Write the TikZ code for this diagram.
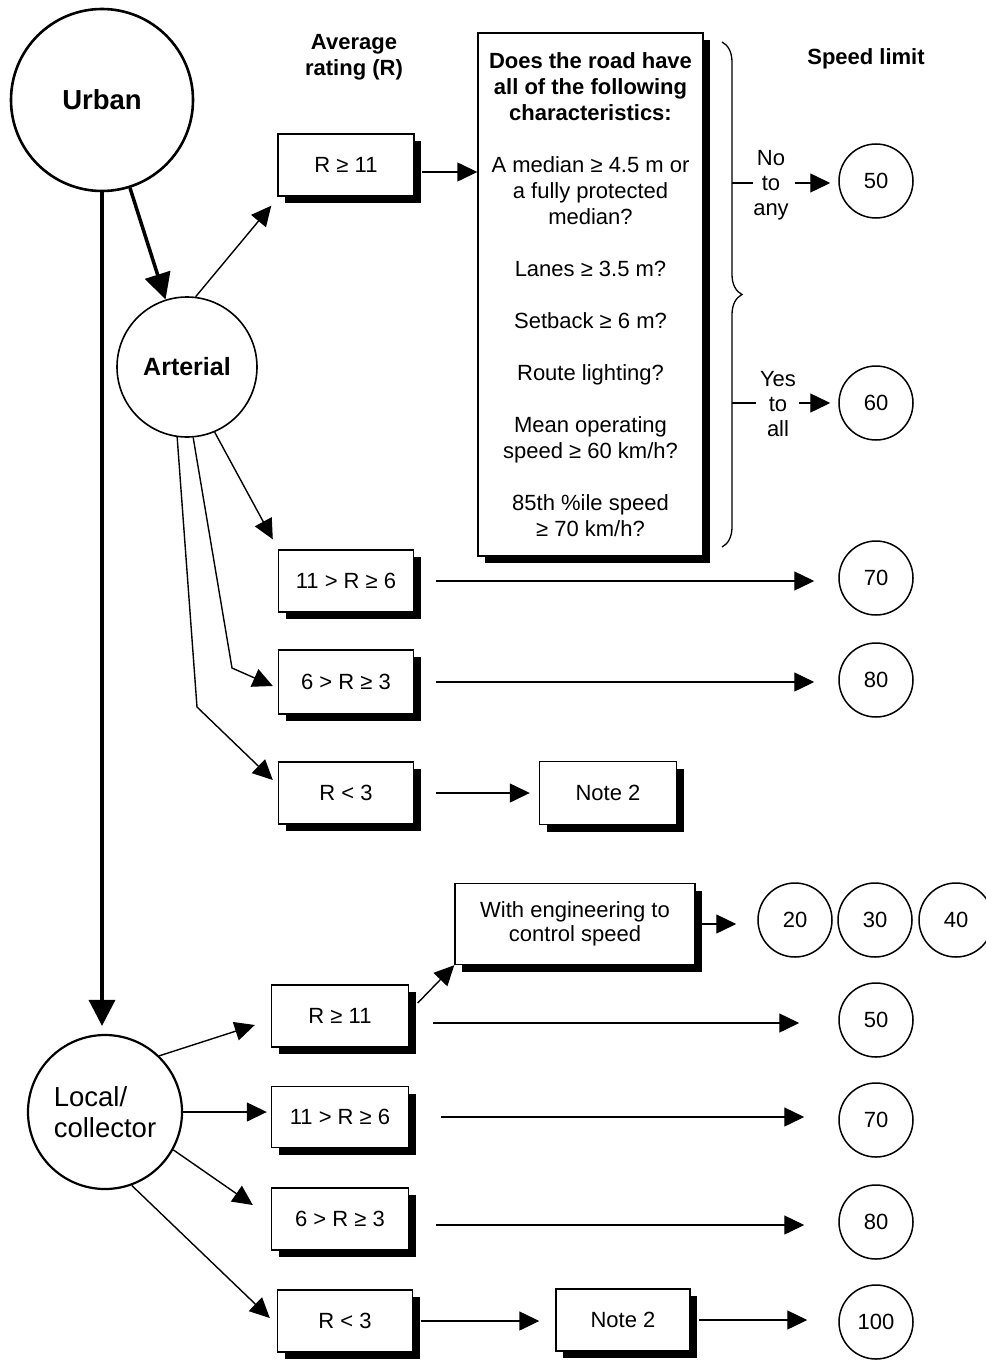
\documentclass[tikz,border=0pt]{standalone}
\usepackage{fontspec}
\setmainfont{Liberation Sans}
\usetikzlibrary{arrows.meta,shadows,decorations.pathreplacing,calc}
\begin{document}
\begin{tikzpicture}[x=1pt,y=-1pt,
  box/.style={draw, line width=1.4pt, fill=white, inner sep=2pt, align=center,
    font=\fontsize{22}{26}\selectfont,
    drop shadow={shadow xshift=7pt,shadow yshift=-7pt,opacity=1,fill=black}},
  spd/.style={circle, draw, line width=1.5pt, minimum size=74pt, inner sep=0pt,
    font=\fontsize{22}{24}\selectfont},
  bigc/.style={circle, draw, line width=2.2pt, inner sep=0pt},
  arr/.style={line width=1.4pt, -{Triangle[length=20pt,width=19pt]}},
  tarr/.style={line width=3.5pt, -{Triangle[length=26pt,width=26pt]}},
  lbl/.style={align=center, inner sep=0pt},
]
\useasboundingbox (0,0) rectangle (985,1362);

% main circles
\node[bigc, line width=2.6pt, minimum size=182pt, font=\bfseries\fontsize{27.5}{30}\selectfont] (Urban) at (102,100) {Urban};
\node[bigc, line width=1.6pt, minimum size=140pt, font=\bfseries\fontsize{25}{28}\selectfont] (Art) at (187,367) {Arterial};
\node[bigc, minimum size=154pt, align=left, font=\fontsize{27.5}{31}\selectfont] (Local) at (105,1112) {Local/\\collector};

% headings
\node[lbl, font=\bfseries\fontsize{22}{26}\selectfont] (avg) at (354,57) {Average\\rating (R)};
\node[lbl, font=\bfseries\fontsize{22}{26}\selectfont] (sl) at (866,59) {Speed limit};

% arterial boxes
\node[box, minimum width=136pt, minimum height=62pt] (A1) at (346,165) {R ≥ 11};
\node[box, minimum width=135pt, minimum height=62pt] (A2) at (346,581) {11 > R ≥ 6};
\node[box, minimum width=135pt, minimum height=64pt] (A3) at (346,682) {6 > R ≥ 3};
\node[box, minimum width=135pt, minimum height=62pt] (A4) at (346,793) {R < 3};
\node[box, minimum width=137pt, minimum height=63pt] (N1) at (608,793) {Note 2};

\node[box, minimum width=225pt, minimum height=523pt, inner sep=0pt] (Q) at (590.5,294.5)
 {\textbf{Does the road have}\\\textbf{all of the following}\\\textbf{characteristics:}\\[26pt]
  A median ≥ 4.5 m or\\a fully protected\\median?\\[26pt]
  Lanes ≥ 3.5 m?\\[26pt]
  Setback ≥ 6 m?\\[26pt]
  Route lighting?\\[26pt]
  Mean operating\\speed ≥ 60 km/h?\\[26pt]
  85th \%ile speed\\≥ 70 km/h?};

% brace and decisions
\draw[line width=1.3pt, decorate, decoration={brace, amplitude=20pt}] (722,42) -- (722,547);
\coordinate (bn) at (732,183);
\coordinate (by) at (732,403);
\node[lbl, font=\fontsize{22}{25}\selectfont] (No) at (771,185) {No\\to\\any};
\node[lbl, font=\fontsize{22}{25}\selectfont] (Yes) at (778,404) {Yes\\to\\all};

% speed circles (arterial)
\node[spd] (S50a) at (876,181) {50};
\node[spd] (S60) at (876,403) {60};
\node[spd] (S70a) at (876,578) {70};
\node[spd] (S80a) at (876,680) {80};

% local boxes
\node[box, minimum width=240pt, minimum height=81pt, inner sep=1pt, font=\fontsize{22}{24}\selectfont] (E) at (575,924) {With engineering to\\control speed};
\node[box, minimum width=137pt, minimum height=62pt] (L1) at (340,1016) {R ≥ 11};
\node[box, minimum width=137pt, minimum height=61pt] (L2) at (340,1117) {11 > R ≥ 6};
\node[box, minimum width=137pt, minimum height=62pt] (L3) at (340,1219) {6 > R ≥ 3};
\node[box, minimum width=135pt, minimum height=62pt] (L4) at (345,1321) {R < 3};
\node[box, minimum width=134pt, minimum height=62pt] (N2) at (623,1320) {Note 2};

\node[spd] (S20) at (795,920) {20};
\node[spd] (S30) at (875,920) {30};
\node[spd] (S40) at (956,920) {40};
\node[spd] (S50b) at (876,1020) {50};
\node[spd] (S70b) at (876,1120) {70};
\node[spd] (S80b) at (876,1222) {80};
\node[spd] (S100) at (876,1322) {100};

% thick connectors
\draw[tarr] (Urban) -- (Art);
\draw[tarr] (Urban.-90) -- ([yshift=8pt]Urban.-90 |- Local.north);

% arterial connectors
\draw[arr] (Art.83) -- ([xshift=-6pt,yshift=-9pt]A1.south west);
\draw[arr] ([xshift=7pt,yshift=-7pt]A1.east) -- ([yshift=-7pt]A1.east -| Q.west);
\draw[arr] (Art.-67) -- ([xshift=-5pt,yshift=10pt]A2.north west);
\draw[arr] (Art.-85) -- (232,668) -- ([xshift=-5pt,yshift=-4pt]A3.west);
\draw[arr] (Art.-98) -- (197,707) -- ([xshift=-5pt,yshift=13pt]A4.west);
\draw[arr] ([xshift=22pt]A2.east) -- ([xshift=-24pt]A2.east -| S70a.west);
\draw[arr] ([xshift=22pt]A3.east) -- ([xshift=-24pt]A3.east -| S80a.west);
\draw[arr] ([xshift=22pt]A4.east) -- ([xshift=-9pt]A4.east -| N1.west);

\draw[line width=1.3pt] (bn) -- (bn -| No.west);
\draw[line width=1.3pt] (by) -- ([xshift=-4pt]by -| Yes.west);
\draw[arr] ([xshift=6pt]bn -| No.east) -- ([xshift=-8pt]bn -| S50a.west);
\draw[arr] ([xshift=3pt]by -| Yes.east) -- ([xshift=-8pt]by -| S60.west);

% local connectors
\draw[arr] (Local.46) -- ([xshift=-16pt,yshift=-9pt]L1.west);
\draw[arr] (Local.east) -- ([xshift=-4pt]Local.east -| L2.west);
\draw[arr] (Local.-29) -- ([xshift=-18pt,yshift=14pt]L3.west);
\draw[arr] (Local.-70) -- ([xshift=-7pt,yshift=3pt]L4.west);
\draw[arr] ([xshift=8.5pt,yshift=13pt]L1.east) -- (E.south west);
\draw[arr] ([xshift=6pt]E.east) -- ([xshift=-21pt]E.east -| S20.west);
\draw[arr] ([xshift=24pt,yshift=-7pt]L1.east) -- ([xshift=-39pt,yshift=-7pt]L1.east -| S50b.west);
\draw[arr] ([xshift=32pt]L2.east) -- ([xshift=-34pt]L2.east -| S70b.west);
\draw[arr] ([xshift=27pt,yshift=-6pt]L3.east) -- ([xshift=-34pt,yshift=-6pt]L3.east -| S80b.west);
\draw[arr] ([xshift=7.5pt]L4.east) -- ([xshift=-16pt]L4.east -| N2.west);
\draw[arr] ([xshift=8pt]N2.east) -- ([xshift=-31pt]N2.east -| S100.west);
\end{tikzpicture}
\end{document}
